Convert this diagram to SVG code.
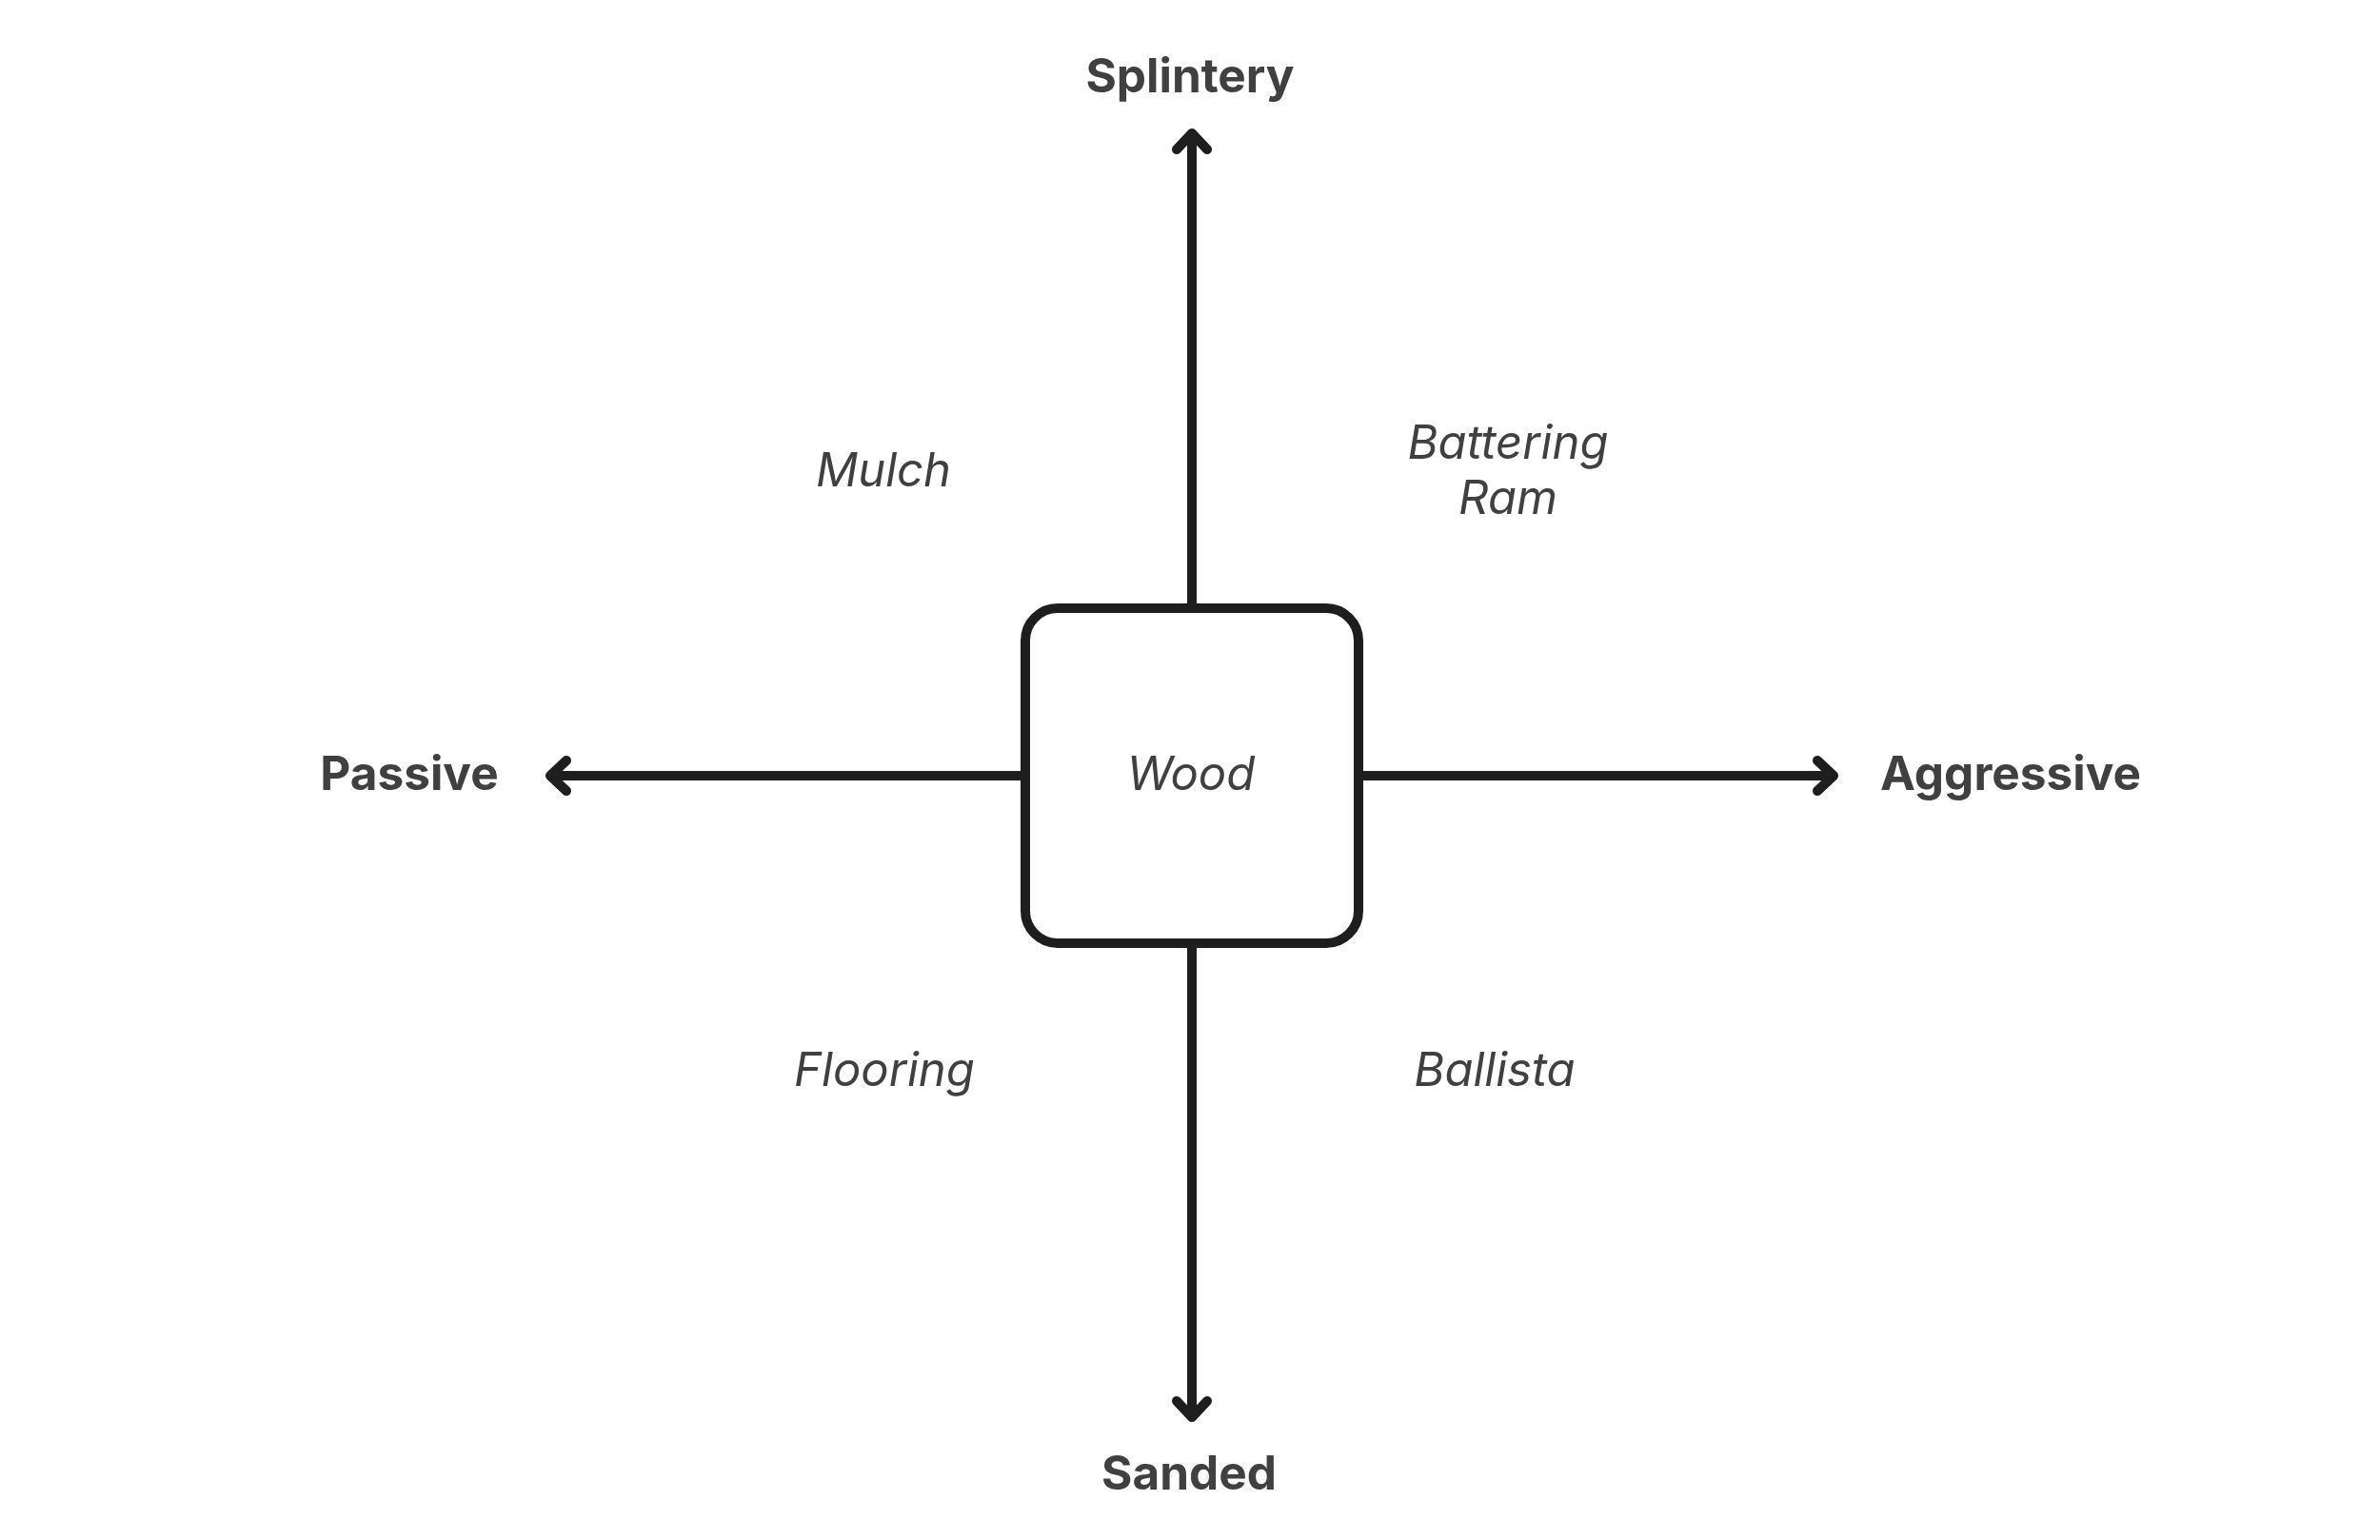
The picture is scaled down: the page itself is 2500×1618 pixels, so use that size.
<svg xmlns="http://www.w3.org/2000/svg" width="2500" height="1618" viewBox="0 0 2500 1618">
<style>
.ax{fill:none;stroke:#1e1e1e;stroke-width:10;stroke-linecap:round;stroke-linejoin:round}
.lbl{font-family:Inter,"Noto Sans","Liberation Sans",sans-serif;font-weight:700;font-size:49.5px;fill:#404040;text-anchor:middle}
.it{font-family:Inter,"Noto Sans","Liberation Sans",sans-serif;font-style:italic;font-size:49px;fill:#404040;text-anchor:middle}
</style>
<rect width="2500" height="1618" fill="#ffffff"/>
<g id="connectors">
<path class="ax" d="M1252 639 V140 M1236 157 L1252 140 L1268 157"/>
<path class="ax" d="M1252 991 V1489 M1236 1472 L1252 1489 L1268 1472"/>
<path class="ax" d="M1077 815 H578 M595 799 L578 815 L595 831"/>
<path class="ax" d="M1427 815 H1926 M1909 799 L1926 815 L1909 831"/>
</g>
<g id="wood">
<rect x="1077" y="639" width="350" height="352" rx="34" fill="#ffffff" stroke="#1e1e1e" stroke-width="10"/>
<text class="it" x="1251" y="830">Wood</text>
</g>
<g id="splintery"><text class="lbl" x="1250" y="97">Splintery</text></g>
<g id="sanded"><text class="lbl" x="1249" y="1565">Sanded</text></g>
<g id="passive"><text class="lbl" x="430" y="830">Passive</text></g>
<g id="aggressive"><text class="lbl" x="2112" y="830">Aggressive</text></g>
<g id="mulch"><text class="it" x="928" y="511">Mulch</text></g>
<g id="battering-ram"><text class="it" x="1584" y="482">Battering</text><text class="it" x="1584" y="540">Ram</text></g>
<g id="flooring"><text class="it" x="929" y="1141">Flooring</text></g>
<g id="ballista"><text class="it" x="1570" y="1141">Ballista</text></g>
</svg>
